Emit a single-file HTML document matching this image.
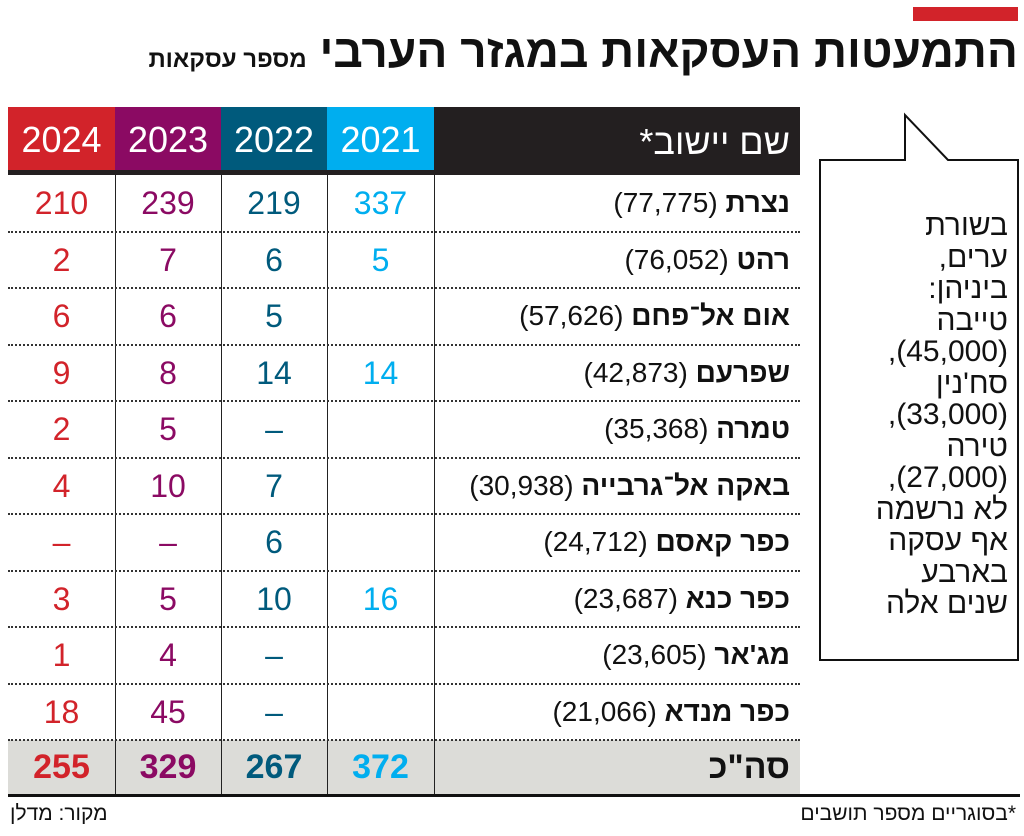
<!DOCTYPE html>
<html lang="he"><head><meta charset="utf-8">
<style>
body{margin:0;width:1024px;height:836px;background:#fff;position:relative;overflow:hidden;font-family:"Liberation Sans","Noto Sans CJK SC",sans-serif;}
.abs{position:absolute;}
.hd{position:absolute;top:107px;height:63px;color:#fff;font-size:36px;text-align:center;line-height:66px;}
.cell{position:absolute;text-align:center;font-size:32px;}
.name{position:absolute;right:234px;direction:rtl;font-size:28px;color:#111;white-space:nowrap;}
.name b{font-weight:bold;}
.sep{position:absolute;left:8px;width:792px;height:0;border-top:2px dotted #333;}
.vl{position:absolute;width:1px;background:#222;}
</style></head>
<body>
<div class="abs" style="left:913px;top:7px;width:105px;height:14px;background:#d2232a"></div>
<div class="abs" style="right:6px;top:24px;direction:rtl;white-space:nowrap;font-weight:bold;font-size:46px;color:#111;">התמעטות העסקאות במגזר הערבי <span style="font-size:24px;">מספר עסקאות</span></div>

<div id="tbl">
<div class="abs" style="left:8px;top:107px;width:792px;height:68px;background:#231f20"></div>
<div class="hd" style="left:8px;width:107px;background:#d2232a">2024</div>
<div class="hd" style="left:115px;width:106px;background:#8b0a63">2023</div>
<div class="hd" style="left:221px;width:106px;background:#005a7c">2022</div>
<div class="hd" style="left:327px;width:107px;background:#00aeef">2021</div>
<div class="abs" style="right:234px;top:107px;line-height:70px;font-size:36px;color:#fff;direction:rtl;">שם יישוב*</div>
<div class="abs" style="left:8px;top:740px;width:792px;height:55px;background:#dcdcd8"></div>
</div>

<div class="abs" style="left:8px;top:794px;width:1012px;height:3px;background:#111"></div>
<div class="abs" style="right:8px;top:802px;font-size:21px;direction:rtl;color:#111;">*בסוגריים מספר תושבים</div>
<div class="abs" style="left:10px;top:802px;font-size:21px;direction:rtl;color:#111;">מקור: מדלן</div>

<svg class="abs" style="left:0;top:0" width="1024" height="836">
<polygon points="820,160 905,160 905,115 948,160 1018,160 1018,660 820,660" fill="#fff" stroke="#111" stroke-width="2"/>
</svg>
<div class="abs" style="right:16px;top:210px;width:190px;text-align:right;direction:rtl;font-size:30px;line-height:31.5px;color:#111;">בשורת<br>ערים,<br>ביניהן:<br>טייבה<br>(45,000),<br>סח'נין<br>(33,000),<br>טירה<br>(27,000),<br>לא נרשמה<br>אף עסקה<br>בארבע<br>שנים אלה</div>

<script>
const towns=["נצרת","רהט","אום אל־פחם","שפרעם","טמרה","באקה אל־גרבייה","כפר קאסם","כפר כנא","מג'אר","כפר מנדא"];
const populations=["77,775","76,052","57,626","42,873","35,368","30,938","24,712","23,687","23,605","21,066"];
const v2021=["337","5","","14","","","","16","",""];
const v2022=["219","6","5","14","–","7","6","10","–","–"];
const v2023=["239","7","6","8","5","10","–","5","4","45"];
const v2024=["210","2","6","9","2","4","–","3","1","18"];
const totals=["255","329","267","372"];
const tbl=document.getElementById('tbl');
const cols=[{x:8,w:107,c:'#d2232a',d:v2024},{x:115,w:106,c:'#8b0a63',d:v2023},{x:221,w:106,c:'#005a7c',d:v2022},{x:327,w:107,c:'#00aeef',d:v2021}];
const top0=175,rh=56.5;
[115,221,327,434].forEach(function(x){
  const v=document.createElement('div');v.className='vl';
  
  
  v.style.left=x+'px';v.style.top='175px';v.style.height='620px';tbl.appendChild(v);
});
towns.forEach(function(t,i){
  const y=top0+i*rh;
  if(i>0){const s=document.createElement('div');s.className='sep';
  
  
  s.style.top=(y-1)+'px';tbl.appendChild(s);}
  const n=document.createElement('div');n.className='name';
  
  
  n.style.top=(y+12)+'px';
  n.innerHTML='<b>'+t+'</b> ('+populations[i]+')';
  tbl.appendChild(n);
  cols.forEach(function(c){
    const e=document.createElement('div');e.className='cell';
    
    
    e.style.left=c.x+'px';e.style.width=c.w+'px';e.style.top=(y+10)+'px';e.style.color=c.c;
    e.textContent=c.d[i];tbl.appendChild(e);
  });
});
const s2=document.createElement('div');s2.className='sep';


s2.style.top='739px';tbl.appendChild(s2);
cols.forEach(function(c,k){
  const e=document.createElement('div');e.className='cell';
  
  
  e.style.left=c.x+'px';e.style.width=c.w+'px';e.style.top='748px';e.style.color=c.c;
  e.style.fontWeight='bold';e.style.fontSize='34px';
  e.textContent=totals[k];tbl.appendChild(e);
});
const tl=document.createElement('div');tl.className='name';


tl.style.top='748px';tl.style.fontSize='34px';tl.innerHTML='<b>סה"כ</b>';tbl.appendChild(tl);
</script>
</body></html>
